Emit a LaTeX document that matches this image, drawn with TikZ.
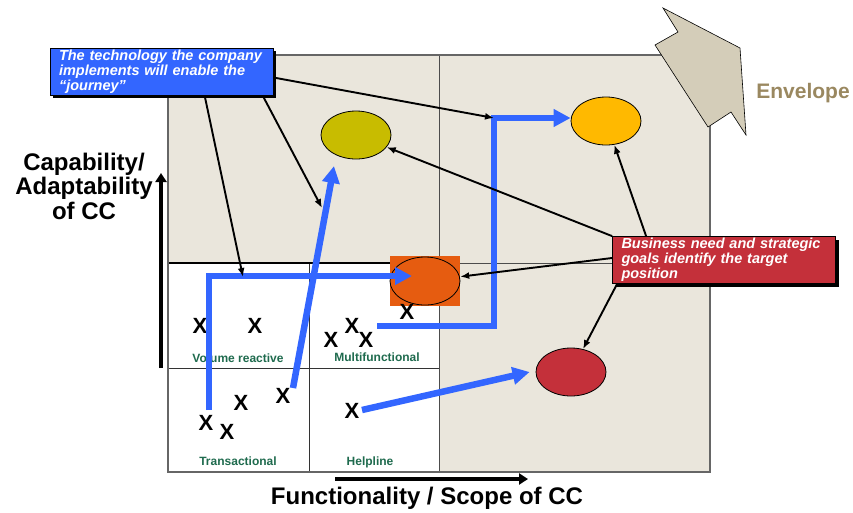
\documentclass[tikz,border=0pt]{standalone}
\usepackage{fontspec}
\setmainfont{Liberation Sans}
\usepackage{tikz}
\usetikzlibrary{arrows.meta, calc, shapes.geometric, shadows}

\definecolor{fieldbg}{HTML}{EAE6DC}
\definecolor{techblue}{HTML}{3366FF}
\definecolor{goalred}{HTML}{C4303A}
\definecolor{posolive}{HTML}{C8BC00}
\definecolor{posgold}{HTML}{FFB900}
\definecolor{posorange}{HTML}{E65C10}
\definecolor{quadgreen}{HTML}{1F6B4E}
\definecolor{envfill}{HTML}{D4CDB9}
\definecolor{envtext}{HTML}{9A8860}

\begin{document}
\begin{tikzpicture}[x=1pt, y=-1pt,
  spot/.style={ellipse, draw=black, line width=0.8pt, minimum width=70pt, minimum height=48pt, inner sep=0pt},
  blurb/.style={draw=black, line width=0.8pt, text=white, font=\fontsize{14.5}{15}\selectfont\bfseries\itshape,
    align=left, text width=205pt, inner xsep=9pt, inner ysep=1.5pt, minimum height=47pt,
    drop shadow={shadow xshift=3pt, shadow yshift=-3pt, fill=black, opacity=1}},
  quad/.style={text=quadgreen, font=\fontsize{12}{12}\selectfont\bfseries, anchor=base},
  xmark/.style={font=\fontsize{22}{22}\selectfont\bfseries, inner sep=0pt},
  journey/.style={techblue, line width=6.5pt, -{Triangle[length=17pt,width=17pt]}},
  pointer/.style={black, line width=1.9pt, -{Latex[length=9pt,width=7pt]}},
  axisarrow/.style={black, line width=4pt, -{Triangle[length=9pt,width=11pt]}},
  axislabel/.style={font=\fontsize{24}{24.5}\selectfont\bfseries, align=center}]
\useasboundingbox (0,0) rectangle (853,512);

\fill[fieldbg] (168,55) rectangle (710,472);
\fill[white] (168,263) rectangle (439,472);
\draw[black!70, line width=1pt] (439,55) -- (439,472) (168,263) -- (710,263);
\draw[black!80, line width=1pt] (309,263) -- (309,472) (168,368) -- (439,368);
\draw[black, line width=1.2pt] (168,263) -- (439,263);
\draw[black!60, line width=1.5pt] (168,55) rectangle (710,472);

\draw[fill=envfill, line width=0.6pt] (663,8) -- (740,48) -- (746,135) -- (731,112) -- (708,127) -- (655,45) -- (678,32) -- cycle;
\node[font=\fontsize{21}{21}\selectfont\bfseries, text=envtext, anchor=base] (envlabel) at (803,98) {Envelope};

\node[quad] (volume) at (238,362) {Volume reactive};
\node[quad] (multi) at (377,361) {Multifunctional};
\node[quad] (trans) at (238,465) {Transactional};
\node[quad] (help) at (370,465) {Helpline};

\node[spot, fill=posolive] (olive) at (356,135) {};
\node[spot, fill=posgold] (gold) at (606,121) {};
\node[fill=posorange, minimum width=70pt, minimum height=50pt, inner sep=0pt] (orangebox) at (425,281) {};
\node[spot, fill=posorange] (orange) at (425,281) {};
\node[spot, fill=goalred] (red) at (571,372) {};

\node[xmark] (x1) at (200,326) {X};
\node[xmark] (x2) at (255,326) {X};
\node[xmark] (x3) at (331,340) {X};
\node[xmark] (x4) at (352,326) {X};
\node[xmark] (x5) at (366,340) {X};
\node[xmark] (x6) at (407,312) {X};
\node[xmark] (x7) at (206,423) {X};
\node[xmark] (x8) at (227,432) {X};
\node[xmark] (x9) at (241,403) {X};
\node[xmark] (x10) at (283,396) {X};
\node[xmark] (x11) at (352,411) {X};

\coordinate (s1) at (209,410);
\coordinate (t1) at (412,276);
\coordinate (s2) at (293,388);
\coordinate (t2) at (334,166);
\coordinate (s3) at (377,326);
\coordinate (c3) at (494,118);
\coordinate (s4) at (362,410);
\draw[journey] (s1) |- (t1);
\draw[journey] (s2) -- (t2);
\draw[journey] (s3) -| (c3) -- (c3 -| gold.west);
\draw[journey] (s4) -- ([xshift=-6pt]red.west);

\node[blurb, fill=techblue] (tech) at (161.5,71.5) {The technology the company\\implements will enable the\\“journey”};
\node[blurb, fill=goalred] (goal) at (724,260) {Business need and strategic\\goals identify the target\\position};

\coordinate (a1) at (243,277);
\coordinate (a2) at (322,208);
\draw[pointer] ([xshift=155pt]tech.south west) -- (a1);
\draw[pointer] ([xshift=213pt]tech.south west) -- (a2);
\draw[pointer] ([yshift=-6pt]tech.east) -- (c3);
\draw[pointer] (goal.north west) -- (olive);
\draw[pointer] ([xshift=34pt]goal.north west) -- (gold);
\draw[pointer] ([yshift=2pt]goal.west) -- (orangebox);
\draw[pointer] ([xshift=5pt]goal.south west) -- (red);

\coordinate (ybot) at (161,368);
\coordinate (ytop) at (161,173);
\coordinate (xleft) at (335,479);
\coordinate (xright) at (528,479);
\draw[axisarrow] (ybot) -- (ytop);
\draw[axisarrow] (xleft) -- (xright);
\node[axislabel] (ylabel) at (84,186) {Capability/\\Adaptability\\of CC};
\node[axislabel] (xlabel) at (427,498) {Functionality / Scope of CC};
\end{tikzpicture}
\end{document}
